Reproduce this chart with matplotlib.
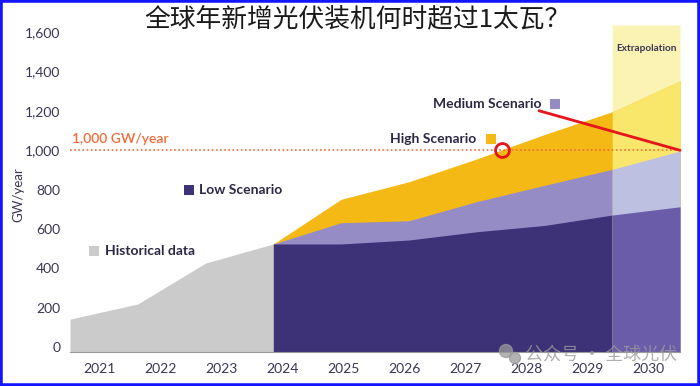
import matplotlib
matplotlib.use("Agg")
import matplotlib.pyplot as plt
from matplotlib.patches import Rectangle, Circle
import numpy as np

plt.rcParams['font.family'] = ['Lato', 'DejaVu Sans']

# ---- data ----
years = ["2021", "2022", "2023", "2024", "2025", "2026", "2027", "2028", "2029", "2030"]
historical = [142, 219, 427, 524]
low = [524, 524, 544, 586, 618, 671, 713]
medium = [524, 632, 642, 739, 822, 903, 996]
high = [524, 751, 840, 956, 1080, 1196, 1354]
yticks = [0, 200, 400, 600, 800, 1000, 1200, 1400, 1600]
target = 1000
extrap_top = 1637

title = "全球年新增光伏装机何时超过1太瓦？"

# ---- colors ----
c_hist = "#cbcbcb"
c_low = "#3d3177"
c_med = "#958cc6"
c_high = "#f5b916"
c_low_x = "#6b5ca9"
c_med_x = "#bec0e1"
c_high_x = "#f8e76a"
c_band = "#fbf3b4"
c_text = "#2c2745"
c_tick = "#3a3552"
c_orange = "#f26b3a"
c_red = "#e8141c"

W, H = 700, 386
fig = plt.figure(figsize=(W / 100, H / 100), dpi=100)
ax = fig.add_axes([70 / W, (H - 352) / H, 610 / W, 330 / H])
ymin, ymax = -25, 1652
ax.set_xlim(0, 9)
ax.set_ylim(ymin, ymax)

xh = np.arange(len(historical))
xf = np.arange(len(historical) - 1, len(historical) - 1 + len(low))

ax.fill_between(xh, ymin, historical, color=c_hist, lw=0)
ax.fill_between(xf, ymin, high, color=c_high, lw=0)
ax.fill_between(xf, ymin, medium, color=c_med, lw=0)
ax.fill_between(xf, ymin, low, color=c_low, lw=0)

# extrapolation band (last segment)
xe = xf[-2:]
ax.fill_between(xe, high[-2:], extrap_top, color=c_band, lw=0)
ax.fill_between(xe, ymin, high[-2:], color=c_high_x, lw=0)
ax.fill_between(xe, ymin, medium[-2:], color=c_med_x, lw=0)
ax.fill_between(xe, ymin, low[-2:], color=c_low_x, lw=0)
ax.text(xe.mean(), 1515, "Extrapolation", ha="center", va="center",
        fontsize=7.2, fontweight="bold", color=c_tick)

# target line
ax.plot([0, 9], [target, target], color=c_orange, lw=1.2, ls=(0, (1, 1.5)))
ax.text(0.03, 1057, "1,000 GW/year", color=c_orange, fontsize=10,
        fontweight="semibold", ha="left", va="center")

# legends
def legend(xs, xt, y, label, color, ha="left"):
    ax.plot([xs], [y], marker="s", ms=7.6, color=color, mew=0, clip_on=False)
    ax.text(xt, y, label, ha=ha, va="center", fontsize=10, fontweight="bold", color=c_text)

legend(1.75, 1.90, 798, "Low Scenario", c_low)
legend(0.354, 0.516, 490, "Historical data", c_hist)
legend(6.21, 6.0, 1056, "High Scenario", c_high, ha="right")
legend(7.15, 6.95, 1235, "Medium Scenario", c_med, ha="right")

# red annotations
ax.plot([6.92, 9.0], [1201, 1000], color=c_red, lw=2.0, solid_capstyle="round", clip_on=False)
ax.plot([6.37], [1000], marker="o", ms=10, mfc="none", mec=c_red, mew=2.0)

# axes styling
for s in ["top", "right", "left"]:
    ax.spines[s].set_visible(False)
ax.spines["bottom"].set_color("#9a9a9a")
ax.spines["bottom"].set_linewidth(0.8)
ax.set_yticks(yticks)
ax.set_yticklabels([f"{v:,}" for v in yticks])
ax.set_xticks([0.44 + 0.9 * i for i in range(len(years))])
ax.set_xticklabels(years)
ax.tick_params(axis="both", length=0, labelsize=10, labelcolor=c_tick)
ax.tick_params(axis="y", pad=7)
ax.tick_params(axis="x", pad=8)
fig.text(18 / W, 1 - 195 / H, "GW/year", rotation=90, ha="center", va="center",
         fontsize=9.5, color=c_tick)

# title
fig.text(357 / W, 1 - 19 / H, title, ha="center", va="center", fontsize=18.5,
         family=["Noto Sans CJK SC", "DejaVu Sans"], color="#1a1a1a")

# watermark
fig.text(525 / W, 1 - 355 / H, "公众号 · 全球光伏", ha="left", va="center", fontsize=13,
         family=["Noto Sans CJK SC", "DejaVu Sans"], color="#9a9a9a", alpha=0.8)
fig.patches.append(Circle((506 / 100, (H - 351) / 100), 0.065, transform=fig.dpi_scale_trans,
                          color="#9a9a9a", alpha=0.75))
fig.patches.append(Circle((515 / 100, (H - 358) / 100), 0.055, transform=fig.dpi_scale_trans,
                          color="#9a9a9a", alpha=0.75))

# frame
fig.patches.append(Rectangle((0, 0), 1, 1, transform=fig.transFigure, fill=False,
                             ec="#1414ff", lw=4))

fig.savefig("out.png", dpi=100)
